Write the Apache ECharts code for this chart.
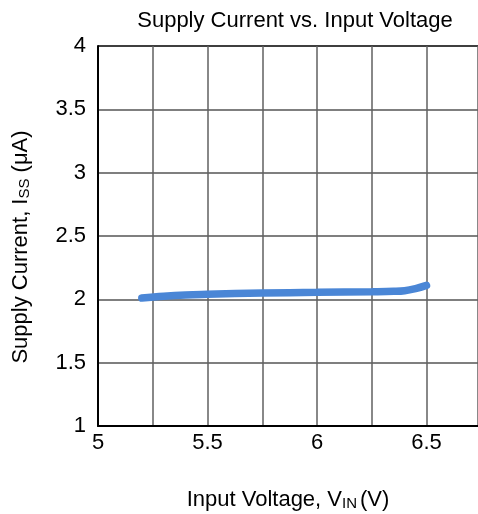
<!DOCTYPE html>
<html>
<head>
<meta charset="utf-8">
<script src="https://cdn.jsdelivr.net/npm/echarts@6/dist/echarts.min.js"></script>
<style>
  html, body { margin: 0; padding: 0; background: #fff; }
  #chart { width: 478px; height: 514px; }
</style>
</head>
<body>
<div id="chart"></div>
<script>
// Measured supply current over the input voltage sweep
const inputVoltage = [5.2, 5.3, 5.4, 5.5, 5.75, 6.0, 6.25, 6.35, 6.4, 6.45, 6.5];
const supplyCurrent = [2.01, 2.025, 2.035, 2.04, 2.05, 2.055, 2.06, 2.063, 2.068, 2.085, 2.11];
const yTicks = [1, 1.5, 2, 2.5, 3, 3.5, 4];
const xTicks = [5, 5.5, 6, 6.5];

const font = 'Liberation Sans, Arial, sans-serif';
const chart = echarts.init(document.getElementById('chart'));

const nameRich = {
  n: { fontFamily: font, fontSize: 22, color: '#000' },
  s: { fontFamily: font, fontSize: 15, color: '#000', verticalAlign: 'bottom', padding: [8, 0, 0, 0] },
  g: { fontFamily: font, fontSize: 22, color: '#000', padding: [0, 0, 0, 3] }
};

chart.setOption({
  backgroundColor: '#fff',
  animation: false,
  title: {
    text: 'Supply Current vs. Input Voltage',
    left: 290,
    textAlign: 'center',
    top: 5,
    textStyle: { fontFamily: font, fontSize: 22, fontWeight: 'normal', color: '#000' }
  },
  grid: { left: 98, top: 46, right: 0, bottom: 88, outerBoundsMode: 'none' },
  xAxis: {
    type: 'value',
    min: 5,
    max: 6.735,
    interval: 0.25,
    name: '{n|Input Voltage, V}{s|IN}{g|(V)}',
    nameLocation: 'middle',
    nameGap: 62,
    nameTextStyle: { rich: nameRich },
    axisLine: { show: true, lineStyle: { color: '#000', width: 2 } },
    axisTick: { show: false },
    axisLabel: {
      fontFamily: font, fontSize: 22, color: '#000', margin: 6,
      showMaxLabel: false,
      formatter: v => xTicks.some(t => Math.abs(t - v) < 1e-6) ? String(v) : ''
    },
    splitLine: { show: true, lineStyle: { color: '#606060', width: 1.5 } }
  },
  yAxis: {
    type: 'value',
    min: 1,
    max: 4,
    interval: 0.5,
    name: '{n|Supply Current, I}{s|SS}{n| (μA)}',
    nameLocation: 'middle',
    nameGap: 66,
    nameTextStyle: { rich: nameRich, padding: [0, 22, 0, 0] },
    axisLine: { show: true, lineStyle: { color: '#000', width: 2 } },
    axisTick: { show: false },
    axisLabel: {
      fontFamily: font, fontSize: 22, color: '#000', margin: 12,
      formatter: v => yTicks.some(t => Math.abs(t - v) < 1e-6) ? String(v) : ''
    },
    splitLine: { show: true, lineStyle: { color: '#555', width: 1.5 } }
  },
  series: [{
    type: 'line',
    data: inputVoltage.map((x, i) => [x, supplyCurrent[i]]),
    smooth: 0.4,
    showSymbol: false,
    lineStyle: { color: '#4a86d6', width: 7.5, cap: 'round' }
  }],
  graphic: [{
    type: 'line',
    shape: { x1: 98, y1: 46, x2: 478, y2: 46 },
    style: { stroke: '#000', lineWidth: 2 }
  }]
});
</script>
</body>
</html>
